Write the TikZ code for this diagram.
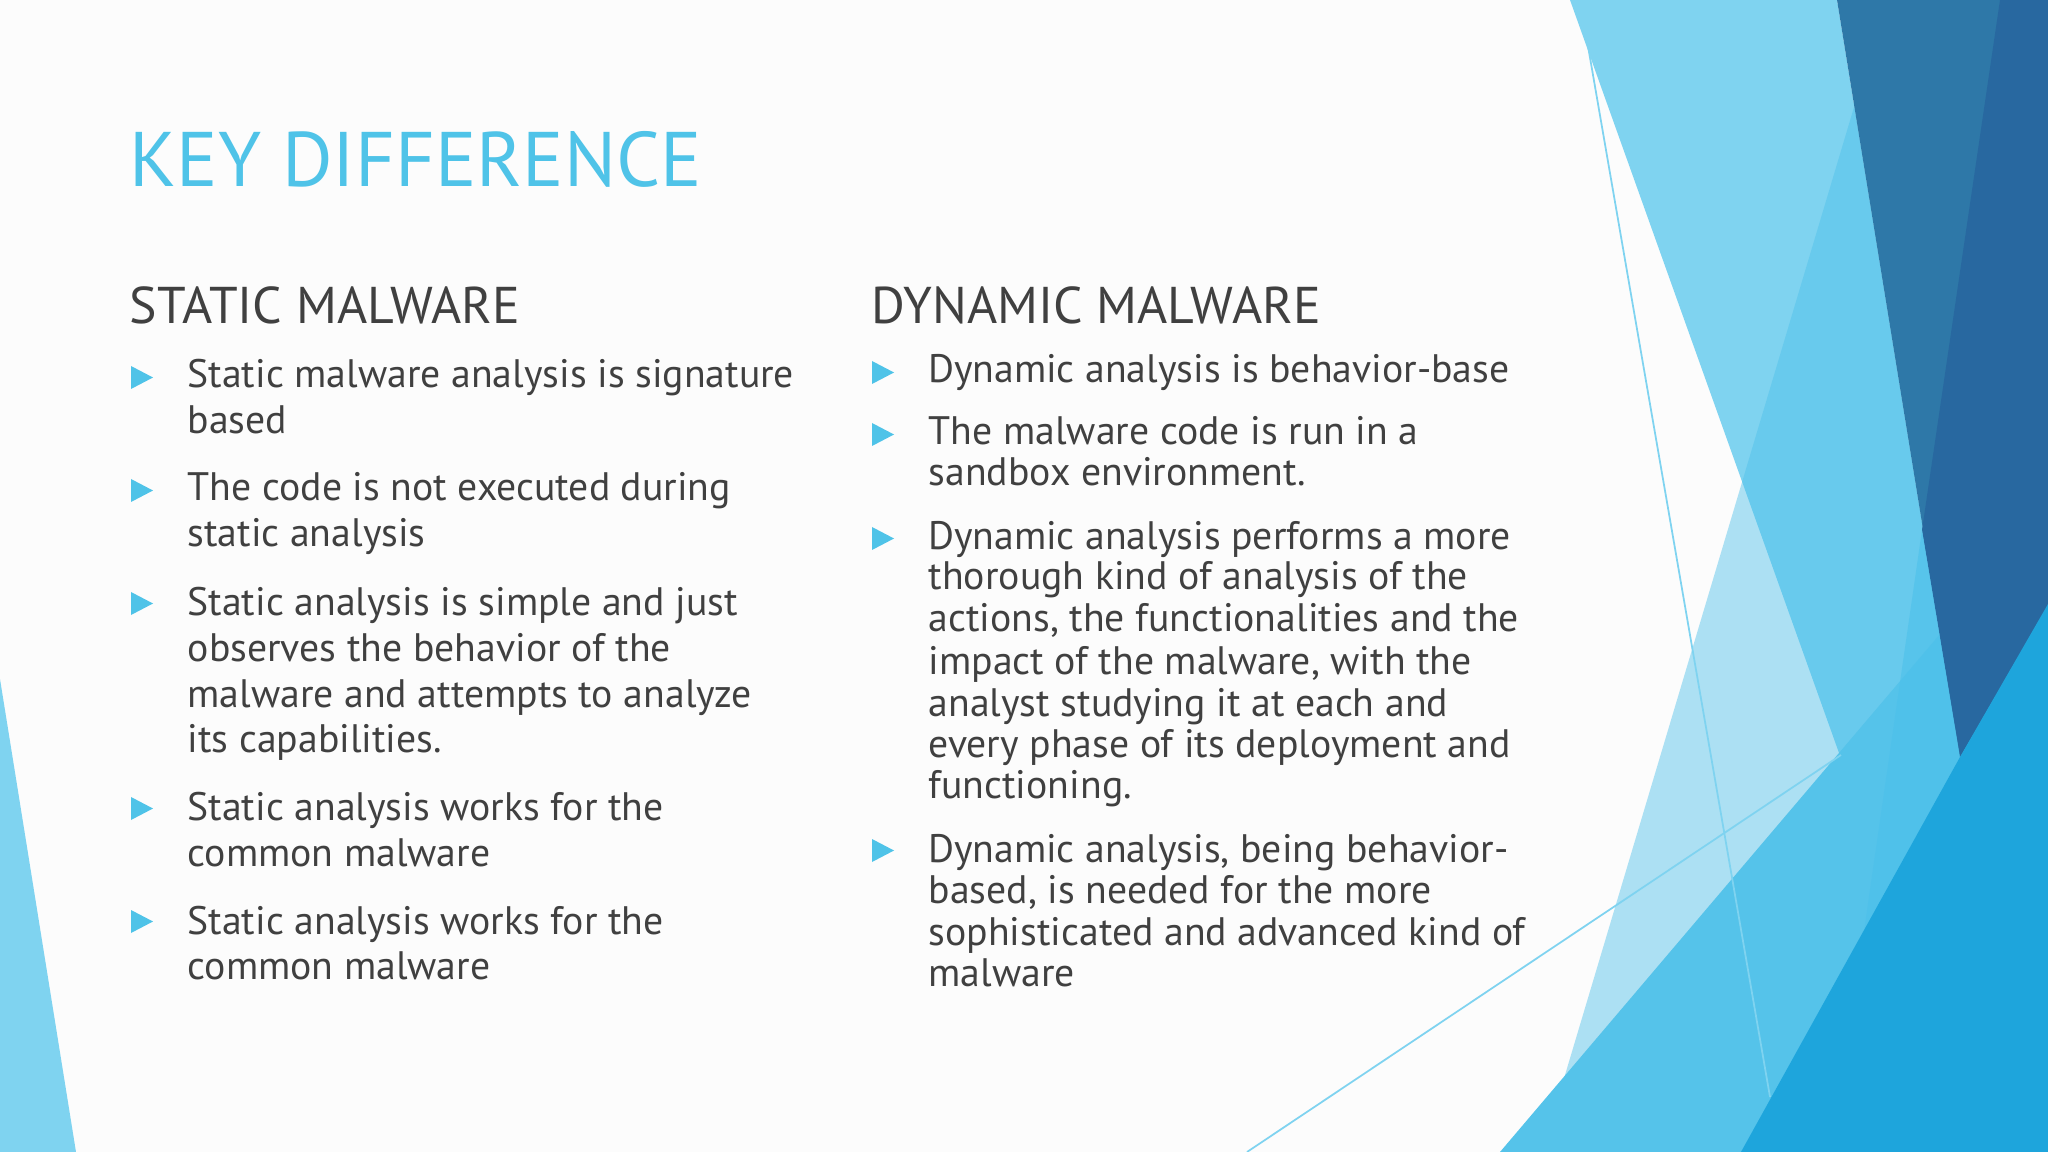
\documentclass[tikz,border=0pt]{standalone}
\usepackage{fontspec}
\setmainfont{PT Sans}
\definecolor{txt}{HTML}{404040}
\definecolor{acc}{HTML}{4FC3E8}
\definecolor{lb}{HTML}{7FD3F0}
\definecolor{mb}{HTML}{4CC0EA}
\definecolor{bb}{HTML}{55C3EA}
\definecolor{db}{HTML}{1EA5DC}
\definecolor{dk1}{HTML}{2E78A8}
\definecolor{dk2}{HTML}{2868A0}
\tikzset{
 body/.style={anchor=base west,inner sep=0pt,text=txt,font=\fontsize{11.3}{13}\selectfont},
 head/.style={anchor=base west,inner sep=0pt,text=txt,font=\fontsize{14.7}{17}\selectfont},
 bul/.style={fill=acc},
}
\newcommand{\bulat}[2]{\fill[bul] (#1,#2) -- ++(0,23) -- ++(22,-11.5) -- cycle;}
\begin{document}
\begin{tikzpicture}[x=0.01cm,y=-0.01cm]
\useasboundingbox (0,0) rectangle (2048,1152);
\fill[white!98!gray] (0,0) rectangle (2048,1152);
% decoration
\fill[lb] (0,679) -- (76,1152) -- (0,1152) -- cycle;
\fill[lb] (1570,0) -- (1837,0) -- (1960,757) -- (1839,753) -- cycle;
\fill[mb,opacity=0.45] (1886,0) -- (2048,0) -- (2048,1152) -- (1542,1152) -- cycle;
\fill[bb] (1500,1152) -- (1839,753) -- (2048,507) -- (2048,1152) -- cycle;
\fill[dk1] (1837,0) -- (2048,0) -- (2048,605) -- (1960,757) -- cycle;
\fill[dk2] (2000,0) -- (2048,0) -- (2048,605) -- (1960,757) -- (1922,530) -- cycle;
\fill[mb,opacity=0.6] (1832,1152) -- (1922,530) -- (1960,757) -- (1741,1152) -- cycle;
\fill[db] (1741,1152) -- (1960,757) -- (2048,604) -- (2048,1152) -- cycle;
\coordinate (l1a) at (1580,0); \coordinate (l1b) at (1770,1097);
\coordinate (l2a) at (1247,1152); \coordinate (l2b) at (1841,755);
\draw[lb,line width=0.5pt] (l1a) -- (l1b);
\draw[lb,line width=0.5pt] (l2a) -- (l2b);
% title
\node[anchor=base west,inner sep=0pt,text=acc,font=\fontsize{22}{26}\selectfont] (title) at (129,187) {KEY DIFFERENCE};
\node[head] (hs) at (129,324) {STATIC MALWARE};
\node[head] (hd) at (871,324) {DYNAMIC MALWARE};
% left bullets
\bulat{131}{366}\bulat{131}{479}\bulat{131}{592}\bulat{131}{797}\bulat{131}{910}
\node[body] (s1) at (187,388) {Static malware analysis is signature};
\node[body] (s2) at (187,434) {based};
\node[body] (s3) at (187,501) {The code is not executed during};
\node[body] (s4) at (187,547) {static analysis};
\node[body] (s5) at (187,615) {Static analysis is simple and just};
\node[body] (s6) at (187,661) {observes the behavior of the};
\node[body] (s7) at (187,707) {malware and attempts to analyze};
\node[body] (s8) at (187,752) {its capabilities.};
\node[body] (s9) at (187,820) {Static analysis works for the};
\node[body] (s10) at (187,866) {common malware};
\node[body] (s11) at (187,934) {Static analysis works for the};
\node[body] (s12) at (187,979) {common malware};
% right bullets
\bulat{872}{361}\bulat{872}{423}\bulat{872}{527}\bulat{872}{839}
\node[body] (d1) at (928,383) {Dynamic analysis is behavior-base};
\node[body] (d2) at (928,445) {The malware code is run in a};
\node[body] (d3) at (928,486) {sandbox environment.};
\node[body] (d4) at (928,550) {Dynamic analysis performs a more};
\node[body] (d5) at (928,590) {thorough kind of analysis of the};
\node[body] (d6) at (928,632) {actions, the functionalities and the};
\node[body] (d7) at (928,674) {impact of the malware, with the};
\node[body] (d8) at (928,716) {analyst studying it at each and};
\node[body] (d9) at (928,757) {every phase of its deployment and};
\node[body] (d10) at (928,798) {functioning.};
\node[body] (d11) at (928,862) {Dynamic analysis, being behavior-};
\node[body] (d12) at (928,903) {based, is needed for the more};
\node[body] (d13) at (928,945) {sophisticated and advanced kind of};
\node[body] (d14) at (928,986) {malware};
\end{tikzpicture}
\end{document}
